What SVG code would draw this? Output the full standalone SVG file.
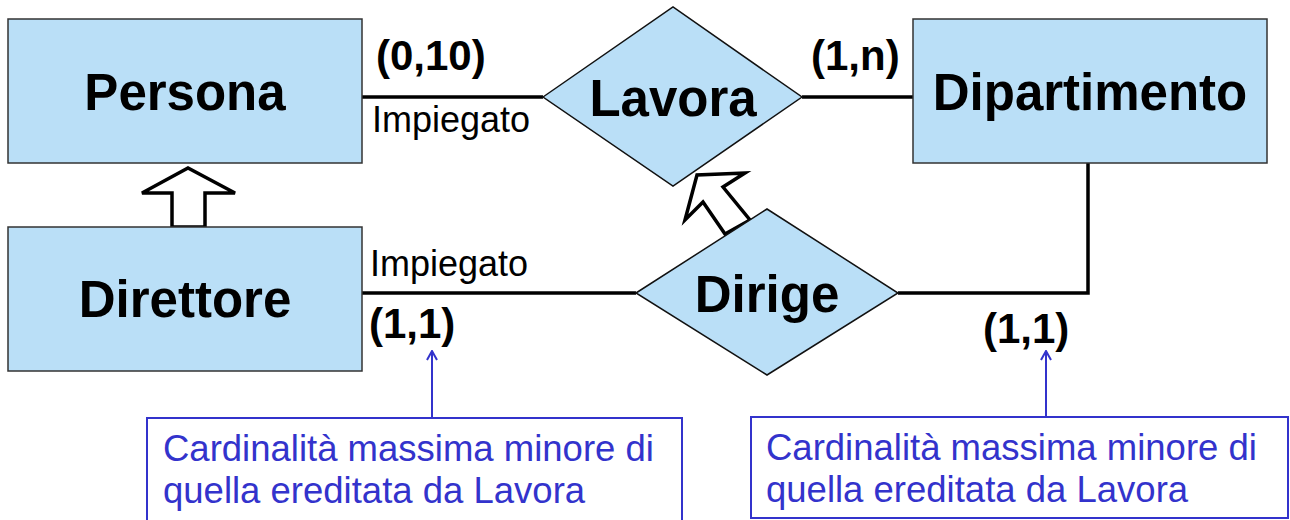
<svg xmlns="http://www.w3.org/2000/svg" width="1290" height="520" viewBox="0 0 1290 520">
  <style>
    .ent { fill: #BADFF7; stroke: #333; stroke-width: 1.5; }
    .rel { fill: #BADFF7; stroke: #111; stroke-width: 1.5; }
    .lbl { font-family: "Liberation Sans", Arial, sans-serif; font-weight: bold; font-size: 51px; fill: #000; text-anchor: middle; }
    .card { font-family: "Liberation Sans", Arial, sans-serif; font-weight: bold; font-size: 42px; fill: #000; }
    .role { font-family: "Liberation Sans", Arial, sans-serif; font-size: 36px; fill: #000; }
    .line { fill: none; stroke: #000; stroke-width: 3.5; }
    .isa { fill: #fff; stroke: #000; stroke-width: 3.5; stroke-linejoin: miter; }
    .note { fill: #fff; stroke: #3333CC; stroke-width: 2; }
    .notetxt { font-family: "Liberation Sans", Arial, sans-serif; font-size: 36.5px; fill: #3333CC; }
    .pointer { stroke: #3333CC; stroke-width: 2; fill: none; }
  </style>
  <defs>
    <marker id="bluehead" markerWidth="12" markerHeight="12" refX="11" refY="6" orient="auto" markerUnits="userSpaceOnUse" viewBox="0 0 12 12">
      <polyline points="2,1 11,6 2,11" fill="none" stroke="#3333CC" stroke-width="2"/>
    </marker>
  </defs>
  <rect width="1290" height="520" fill="#fff"/>

  <g id="connectors">
    <line class="line" x1="362" y1="97" x2="543" y2="97"/>
    <line class="line" x1="802" y1="97" x2="913" y2="97"/>
    <line class="line" x1="362" y1="293" x2="636" y2="293"/>
    <polyline class="line" points="1088,163 1088,293 898,293"/>
    <polygon id="isa-persona" class="isa" points="172,227 172,193 142,193 188,168 235,193 205,193 205,227"/>
    <polygon id="isa-lavora" class="isa" points="725,234 703,202 685,220 697,175 745,173 723,187 750,220"/>
    <line class="pointer" x1="432" y1="418" x2="432" y2="351" marker-end="url(#bluehead)"/>
    <line class="pointer" x1="1046" y1="417" x2="1046" y2="351" marker-end="url(#bluehead)"/>
  </g>

  <g id="persona">
    <rect class="ent" x="8" y="19" width="354" height="144"/>
    <text class="lbl" x="185" y="110">Persona</text>
  </g>
  <g id="dipartimento">
    <rect class="ent" x="913" y="19" width="354" height="144"/>
    <text class="lbl" x="1090" y="110">Dipartimento</text>
  </g>
  <g id="direttore">
    <rect class="ent" x="8" y="227" width="354" height="144"/>
    <text class="lbl" x="185" y="317">Direttore</text>
  </g>
  <g id="lavora">
    <polygon class="rel" points="543,97 673,7 802,97 673,186"/>
    <text class="lbl" x="673" y="116">Lavora</text>
  </g>
  <g id="dirige">
    <polygon class="rel" points="636,293 767,209 898,293 767,375"/>
    <text class="lbl" x="767" y="312">Dirige</text>
  </g>

  <g id="labels">
    <text class="card" x="376" y="70">(0,10)</text>
    <text class="card" x="811" y="70">(1,n)</text>
    <text class="card" x="369" y="338">(1,1)</text>
    <text class="card" x="983" y="343">(1,1)</text>
    <text class="role" x="372" y="132">Impiegato</text>
    <text class="role" x="370" y="276">Impiegato</text>
  </g>

  <g id="note-left">
    <rect class="note" x="147" y="418" width="535" height="104"/>
    <text class="notetxt" x="163" y="461">Cardinalità massima minore di</text>
    <text class="notetxt" x="163" y="503">quella ereditata da Lavora</text>
  </g>
  <g id="note-right">
    <rect class="note" x="751" y="417" width="537" height="101"/>
    <text class="notetxt" x="766" y="460">Cardinalità massima minore di</text>
    <text class="notetxt" x="766" y="502">quella ereditata da Lavora</text>
  </g>
</svg>
